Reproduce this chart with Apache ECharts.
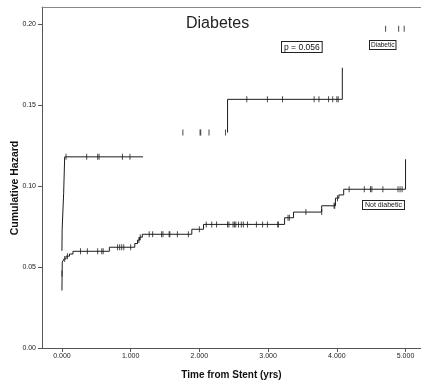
<!DOCTYPE html>
<html>
<head>
<meta charset="utf-8">
<script src="https://cdn.jsdelivr.net/npm/echarts@6/dist/echarts.min.js"></script>
<style>
  html, body { margin: 0; padding: 0; background: #fff; }
  #chart { width: 421px; height: 385px; }
</style>
</head>
<body>
<div id="chart"></div>
<script>
// Tick positions on both axes
const xTicks = [0, 1, 2, 3, 4, 5];
const yTicks = [0, 0.05, 0.10, 0.15, 0.20];

// Diabetic group: early step curve
const diabTime = [0.00, 0.003, 0.025, 0.04, 1.18];
const diabHazard = [0.060, 0.073, 0.0955, 0.118, 0.118];

// Diabetic group: later step curve
const diabLateTime = [2.41, 2.41, 4.08];
const diabLateHazard = [0.133, 0.1535, 0.173];

// Diabetic group: censored observations
const diabCensorTime = [0.06, 0.36, 0.52, 0.54, 0.88, 0.99,
  1.76, 2.01, 2.02, 2.14, 2.38,
  2.69, 2.99, 3.21, 3.67, 3.74, 3.88, 3.94, 4.00, 4.02,
  4.71, 4.90, 4.98];
const diabCensorHazard = [0.118, 0.118, 0.118, 0.118, 0.118, 0.118,
  0.133, 0.133, 0.133, 0.133, 0.133,
  0.1535, 0.1535, 0.1535, 0.1535, 0.1535, 0.1535, 0.1535, 0.1535, 0.1535,
  0.197, 0.197, 0.197];

// Not diabetic group: step curve
const ndTime = [0.00, 0.005, 0.03, 0.06, 0.11, 0.16, 0.69, 1.06, 1.10, 1.13, 1.17,
  1.89, 2.06, 3.24, 3.37, 3.78, 3.98, 4.03, 4.10, 5.00];
const ndHazard = [0.0355, 0.053, 0.055, 0.0567, 0.058, 0.0597, 0.0622, 0.0645, 0.0666, 0.0684, 0.0702,
  0.0733, 0.0763, 0.0804, 0.0839, 0.0878, 0.0925, 0.0945, 0.098, 0.1165];

// Not diabetic group: censored observations
const ndCensorTime = [0.00, 0.04, 0.08,
  0.27, 0.37, 0.52, 0.58, 0.60,
  0.81, 0.84, 0.87, 0.90, 1.00,
  1.12, 1.14,
  1.27, 1.32, 1.45, 1.47, 1.56, 1.57, 1.68, 1.84,
  2.00,
  2.10, 2.18, 2.25, 2.41, 2.43, 2.49, 2.51, 2.53, 2.57, 2.61, 2.64, 2.70, 2.83, 2.92, 2.99, 3.14, 3.15,
  3.29, 3.31,
  3.55, 3.78,
  3.96, 3.97,
  4.01,
  4.18, 4.40, 4.49, 4.51, 4.67, 4.89, 4.92, 4.95];
const ndCensorHazard = [0.046, 0.055, 0.0567,
  0.0597, 0.0597, 0.0597, 0.0597, 0.0597,
  0.0622, 0.0622, 0.0622, 0.0622, 0.0622,
  0.0666, 0.0684,
  0.0702, 0.0702, 0.0702, 0.0702, 0.0702, 0.0702, 0.0702, 0.0702,
  0.0733,
  0.0763, 0.0763, 0.0763, 0.0763, 0.0763, 0.0763, 0.0763, 0.0763, 0.0763, 0.0763, 0.0763, 0.0763, 0.0763, 0.0763, 0.0763, 0.0763, 0.0763,
  0.0804, 0.0804,
  0.0839, 0.0839,
  0.0878, 0.0878,
  0.0925,
  0.098, 0.098, 0.098, 0.098, 0.098, 0.098, 0.098, 0.098];

const zip = (a, b) => a.map((v, i) => [v, b[i]]);

const FONT = '"Liberation Sans", Arial, sans-serif';
const LINE = '#1c1c1c';
const AXIS = '#555';

const stepLine = (data) => ({
  type: 'line', step: 'end', data: data, symbol: 'none', silent: true,
  lineStyle: { color: LINE, width: 1 }, animation: false
});
const censor = (data) => ({
  type: 'scatter', data: data, symbol: 'rect', symbolSize: [1, 6], silent: true,
  itemStyle: { color: LINE }, animation: false
});

const chart = echarts.init(document.getElementById('chart'), null, { renderer: 'canvas' });
chart.setOption({
  backgroundColor: '#fff',
  animation: false,
  title: {
    text: 'Diabetes', left: 181, top: 11,
    textStyle: { fontFamily: FONT, fontSize: 16, fontWeight: 'normal', color: '#222' }
  },
  grid: { left: 42, right: 0, top: 7, bottom: 36, containLabel: false },
  xAxis: [{
    type: 'value', min: -0.29, max: 5.225,
    axisLine: { show: true, onZero: false, lineStyle: { color: AXIS, width: 1 } },
    axisTick: { show: true, length: 4, customValues: xTicks, lineStyle: { color: AXIS } },
    axisLabel: {
      customValues: xTicks, margin: 5, fontSize: 7, fontFamily: FONT, color: '#222',
      formatter: v => v.toFixed(3)
    },
    splitLine: { show: false },
    name: 'Time from Stent (yrs)', nameLocation: 'middle', nameGap: 22,
    nameTextStyle: { fontFamily: FONT, fontSize: 10, fontWeight: 'bold', color: '#111' }
  }, {
    type: 'value', position: 'top', min: -0.29, max: 5.225,
    axisLine: { show: true, onZero: false, lineStyle: { color: '#888', width: 1 } },
    axisTick: { show: false }, axisLabel: { show: false }, splitLine: { show: false }
  }],
  yAxis: {
    type: 'value', min: 0, max: 0.2105,
    axisLine: { show: true, onZero: false, lineStyle: { color: AXIS, width: 1 } },
    axisTick: { show: true, length: 4, customValues: yTicks, lineStyle: { color: AXIS } },
    axisLabel: {
      customValues: yTicks, margin: 6, fontSize: 7, fontFamily: FONT, color: '#222',
      formatter: v => v.toFixed(2)
    },
    splitLine: { show: false }
  },
  graphic: [
    {
      type: 'text', x: 15, y: 188, rotation: Math.PI / 2,
      style: {
        text: 'Cumulative Hazard', fontFamily: FONT, fontSize: 10.5, fontWeight: 'bold',
        fill: '#111', align: 'center', verticalAlign: 'middle'
      }
    },
    {
      type: 'text', x: 282, y: 42,
      style: {
        text: 'p = 0.056', fontFamily: FONT, fontSize: 8.5, fill: '#111',
        borderColor: '#222', borderWidth: 1, padding: [1, 2, 0, 2], backgroundColor: '#fff'
      }
    },
    {
      type: 'text', x: 370, y: 41,
      style: {
        text: 'Diabetic', fontFamily: FONT, fontSize: 6.5, fill: '#111',
        borderColor: '#222', borderWidth: 1, padding: [1, 1, 0, 1], backgroundColor: '#fff'
      }
    },
    {
      type: 'text', x: 363, y: 201,
      style: {
        text: 'Not diabetic', fontFamily: FONT, fontSize: 7, fill: '#111',
        borderColor: '#222', borderWidth: 1, padding: [1, 2, 0, 2], backgroundColor: '#fff'
      }
    }
  ],
  series: [
    stepLine(zip(diabTime, diabHazard)),
    stepLine(zip(diabLateTime, diabLateHazard)),
    stepLine(zip(ndTime, ndHazard)),
    censor(zip(diabCensorTime, diabCensorHazard)),
    censor(zip(ndCensorTime, ndCensorHazard))
  ]
});
</script>
</body>
</html>
